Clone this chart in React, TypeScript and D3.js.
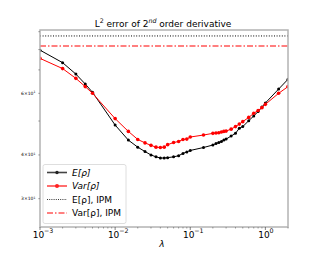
import React from "react";
import * as d3 from "d3";

const lambdas = [0.001, 0.002, 0.003, 0.004, 0.005, 0.01, 0.015, 0.02, 0.025, 0.03, 0.035, 0.04, 0.045, 0.05, 0.06, 0.07, 0.08, 0.09, 0.1, 0.15, 0.2, 0.22, 0.24, 0.26, 0.28, 0.3, 0.35, 0.4, 0.45, 0.5, 0.6, 0.7, 0.8, 0.9, 1.0, 1.5, 2.0];
const meanErr = [79.7, 73.4, 68.1, 63.8, 60.4, 48.7, 44.1, 42.1, 40.9, 40.0, 39.5, 39.2, 39.2, 39.3, 39.5, 39.8, 40.4, 40.8, 41.2, 42.0, 42.7, 43.1, 43.4, 43.7, 44.1, 44.4, 45.3, 46.1, 47.7, 48.2, 50.1, 51.7, 53.2, 54.8, 56.3, 61.7, 65.8];
const varErr = [75.5, 70.6, 66.2, 62.7, 60.0, 50.8, 46.7, 44.3, 43.3, 42.6, 42.1, 42.0, 42.1, 42.8, 43.4, 43.7, 44.3, 44.4, 45.0, 45.6, 46.1, 46.2, 46.3, 46.5, 46.7, 46.8, 47.4, 48.2, 49.0, 49.8, 51.2, 52.6, 53.6, 54.6, 55.8, 60.0, 62.7];
const ipmMean = 87.5;
const ipmVar = 81.9;
const xMajorTicks = [0.001, 0.01, 0.1, 1];
const xTickExp = ["\u22123", "\u22122", "\u22121", "0"];
const yTicks = [30, 40, 50, 60, 70, 80, 90];
const yTickLabels: Record<number, string> = { 30: "3", 40: "4", 60: "6" };
const legendLabels = ["E[\u03c1]", "Var[\u03c1]", "E[\u03c1], IPM", "Var[\u03c1], IPM"];

const L = 40, R = 288, T = 30, B = 227;
const FONT = "DejaVu Sans, sans-serif";

export default function App() {
  const x = d3.scaleLog().domain([0.001, 2]).range([L, R]);
  const y = d3.scaleLog().domain([24.9, 91.0]).range([B, T]);
  const line = d3.line<number>().x((_, i) => x(lambdas[i])).y((v) => y(v));
  const minorX: number[] = [];
  for (let e = -3; e <= 0; e++) {
    for (let m = 2; m <= 9; m++) {
      const v = m * Math.pow(10, e);
      if (v <= 2) minorX.push(v);
    }
  }
  const rows = [172.5, 186, 199.5, 213];
  return (
    <svg width={320} height={256} style={{ position: "absolute", left: 0, top: 0 }} fontFamily={FONT}>
      <rect x={0} y={0} width={320} height={256} fill="#fff" />
      <defs>
        <clipPath id="plot"><rect x={L} y={T} width={R - L} height={B - T} /></clipPath>
      </defs>
      <g clipPath="url(#plot)">
        <line x1={L} x2={R} y1={y(ipmMean)} y2={y(ipmMean)} stroke="#000" strokeWidth={1} strokeDasharray="1,1.6" />
        <line x1={L} x2={R} y1={y(ipmVar)} y2={y(ipmVar)} stroke="#f00" strokeWidth={1.1} strokeDasharray="6,2,1.5,2" />
        <path d={line(meanErr) || ""} fill="none" stroke="#000" strokeWidth={1} />
        {meanErr.map((v, i) => (
          <circle key={"m" + i} cx={x(lambdas[i])} cy={y(v)} r={1.5} fill="#000" />
        ))}
        <path d={line(varErr) || ""} fill="none" stroke="#f00" strokeWidth={1} />
        {varErr.map((v, i) => (
          <circle key={"v" + i} cx={x(lambdas[i])} cy={y(v)} r={1.8} fill="#f00" />
        ))}
      </g>
      <rect x={L} y={T} width={R - L} height={B - T} fill="none" stroke="#b3b3b3" strokeWidth={1.5} />
      {xMajorTicks.map((t, i) => (
        <g key={"xt" + i}>
          <line x1={x(t)} x2={x(t)} y1={B} y2={B + 3} stroke="#333" strokeWidth={0.6} />
          <text x={x(t) - 1.5} y={237.5} fontSize={9} textAnchor="middle">10</text>
          <text x={x(t) + 4} y={233.3} fontSize={6.3} textAnchor="start">{xTickExp[i]}</text>
        </g>
      ))}
      {minorX.map((t, i) => (
        <line key={"xm" + i} x1={x(t)} x2={x(t)} y1={B} y2={B + 1.6} stroke="#333" strokeWidth={0.4} />
      ))}
      {yTicks.map((t, i) => (
        <g key={"yt" + i}>
          <line x1={L - 1.8} x2={L} y1={y(t)} y2={y(t)} stroke="#333" strokeWidth={0.4} />
          {yTickLabels[t] ? (
            <text x={35.5} y={y(t) + 1.5} fontSize={4.5} textAnchor="end">
              {yTickLabels[t] + "\u00d710"}
              <tspan dy={-1.5} fontSize={3.2}>1</tspan>
            </text>
          ) : null}
        </g>
      ))}
      <text x={163} y={26.5} fontSize={9} textAnchor="middle">
        L<tspan dy={-3.2} fontSize={6.3}>2</tspan>
        <tspan dy={3.2}> error of 2</tspan>
        <tspan dy={-3.2} fontSize={6.3} fontStyle="italic">nd</tspan>
        <tspan dy={3.2}> order derivative</tspan>
      </text>
      <text x={162} y={246.5} fontSize={9} fontStyle="italic" textAnchor="middle">{"\u03bb"}</text>
      <rect x={43} y={164.5} width={83} height={59} rx={2} fill="#fff" fillOpacity={0.85} stroke="#d5d5d5" strokeWidth={0.8} />
      <line x1={47} x2={67} y1={rows[0]} y2={rows[0]} stroke="#444" strokeWidth={1.6} />
      <circle cx={57} cy={rows[0]} r={1.7} fill="#222" />
      <line x1={47} x2={67} y1={rows[1]} y2={rows[1]} stroke="#ff6e6e" strokeWidth={2} />
      <circle cx={57} cy={rows[1]} r={2} fill="#f22" />
      <line x1={47} x2={67} y1={rows[2]} y2={rows[2]} stroke="#000" strokeWidth={0.8} strokeDasharray="1,1.2" />
      <line x1={47} x2={67} y1={rows[3]} y2={rows[3]} stroke="#f00" strokeWidth={1} strokeDasharray="6,2,1.5,2" />
      {legendLabels.map((s, i) => (
        <text key={"lg" + i} x={72} y={rows[i] + 3.2} fontSize={9} fontStyle={i < 2 ? "italic" : "normal"}>{s}</text>
      ))}
    </svg>
  );
}
